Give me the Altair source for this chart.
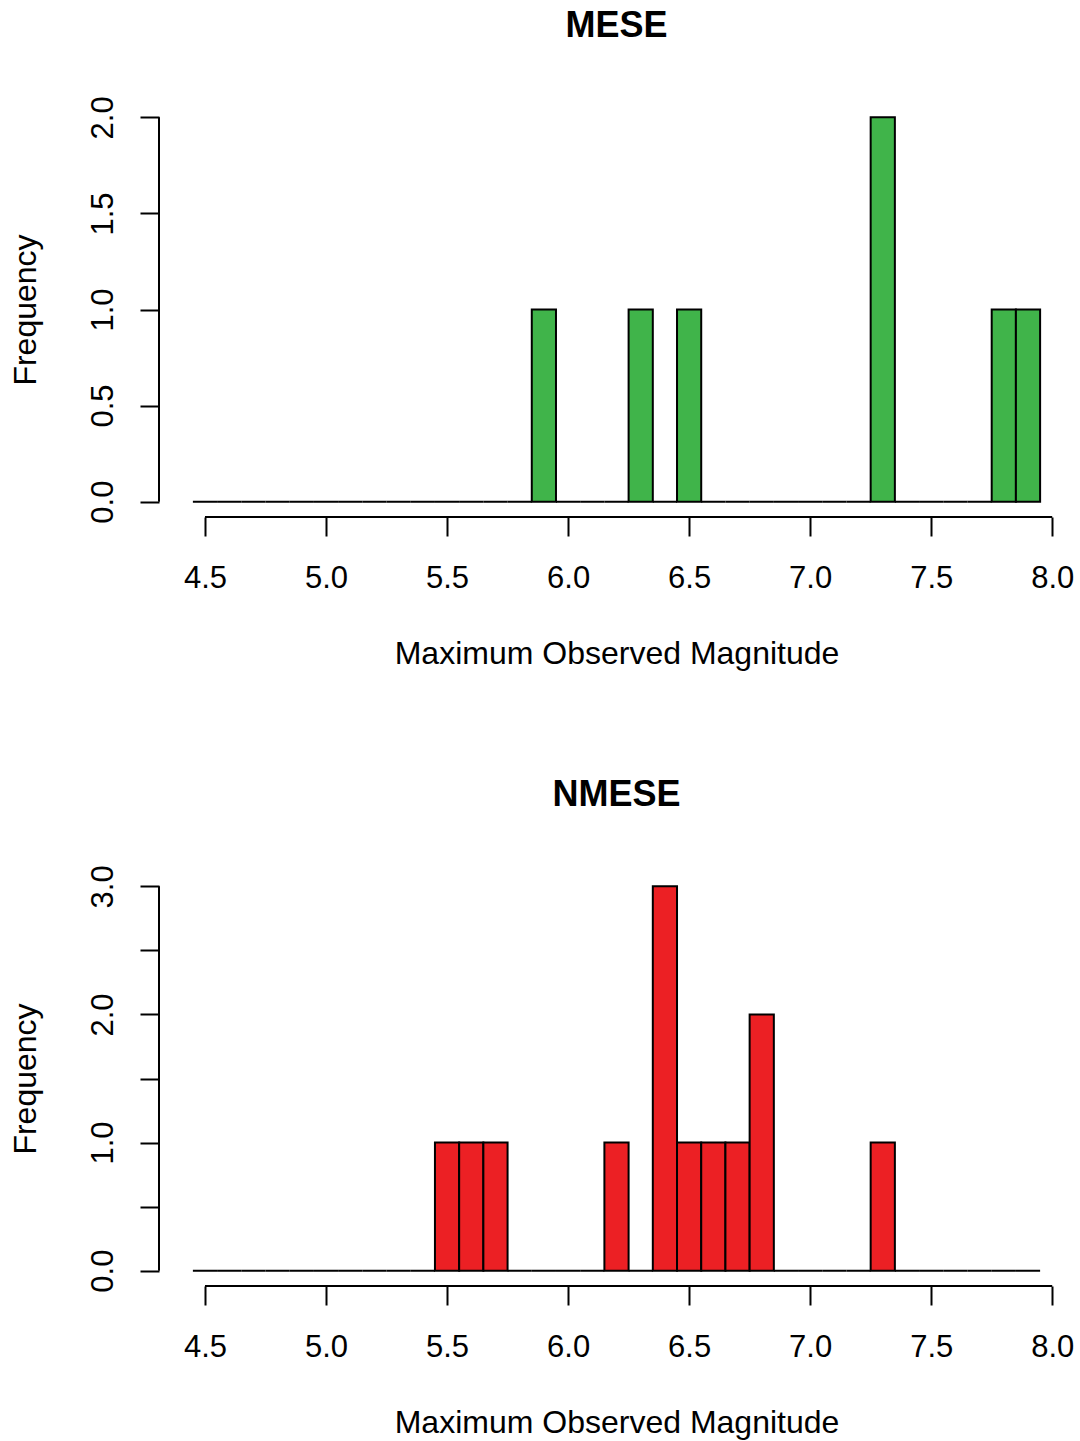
import altair as alt
import pandas as pd

# Histogram bin centres (bin width 0.1)
mids = [4.5, 4.6, 4.7, 4.8, 4.9, 5.0, 5.1, 5.2, 5.3, 5.4,
        5.5, 5.6, 5.7, 5.8, 5.9, 6.0, 6.1, 6.2, 6.3, 6.4,
        6.5, 6.6, 6.7, 6.8, 6.9, 7.0, 7.1, 7.2, 7.3, 7.4,
        7.5, 7.6, 7.7, 7.8, 7.9]
mese_counts = [0, 0, 0, 0, 0, 0, 0, 0, 0, 0,
               0, 0, 0, 0, 1, 0, 0, 0, 1, 0,
               1, 0, 0, 0, 0, 0, 0, 0, 2, 0,
               0, 0, 0, 1, 1]
nmese_counts = [0, 0, 0, 0, 0, 0, 0, 0, 0, 0,
                1, 1, 1, 0, 0, 0, 0, 1, 0, 3,
                1, 1, 1, 2, 0, 0, 0, 0, 1, 0,
                0, 0, 0, 0, 0]
x_ticks = [4.5, 5.0, 5.5, 6.0, 6.5, 7.0, 7.5, 8.0]
mese_y_ticks = [0, 0.5, 1.0, 1.5, 2.0]
nmese_y_ticks = [0, 0.5, 1.0, 1.5, 2.0, 2.5, 3.0]

W, H = 915, 415
FONT = "Liberation Sans"


def panel(title, counts, color, y_ticks, ypad, label_expr):
    df = pd.DataFrame({"mid": mids, "count": counts})
    xscale = alt.Scale(domain=[4.31, 8.09], nice=False, zero=False)
    yscale = alt.Scale(domain=[-ypad, y_ticks[-1] + ypad], nice=False, zero=False)
    xaxis = alt.Axis(
        values=x_ticks, format=".1f", title="Maximum Observed Magnitude",
        domain=False, grid=False, tickSize=19, tickWidth=2, tickColor="black",
        labelFont=FONT, labelFontSize=31, labelColor="black",
        labelBaseline="alphabetic", labelPadding=51, labelAngle=0,
        labelFlush=False, labelOverlap=False,
        titleFont=FONT, titleFontSize=32, titleFontWeight="normal",
        titleColor="black", titleBaseline="alphabetic", titleY=146.5,
        titleX=W / 2, titleAlign="center",
    )
    yaxis = alt.Axis(
        values=y_ticks, labelExpr=label_expr, title="Frequency",
        domain=False, grid=False, tickSize=19, tickWidth=2, tickColor="black",
        labelFont=FONT, labelFontSize=31, labelColor="black",
        labelAngle=270, labelAlign="center", labelBaseline="alphabetic",
        labelPadding=28, labelOverlap=False, labelFlush=False,
        titleFont=FONT, titleFontSize=32, titleFontWeight="normal",
        titleColor="black", titleAngle=270, titleBaseline="alphabetic",
        titleAlign="center", titleX=-123.5, titleY=H / 2,
    )
    bars = alt.Chart(df).transform_calculate(
        x0="datum.mid - 0.05", x1="datum.mid + 0.05"
    ).mark_rect(fill=color, stroke="black", strokeWidth=2).encode(
        x=alt.X("x0:Q", scale=xscale, axis=xaxis),
        x2="x1:Q",
        y=alt.Y("count:Q", scale=yscale, axis=yaxis),
        y2=alt.datum(0),
    )
    xline = alt.Chart(pd.DataFrame({"x0": [x_ticks[0]], "x1": [x_ticks[-1]]})).mark_rule(
        color="black", strokeWidth=2
    ).encode(
        x=alt.X("x0:Q", scale=xscale, axis=xaxis),
        x2="x1:Q",
        y=alt.value(H),
    )
    yline = alt.Chart(pd.DataFrame({"count": [y_ticks[0]], "c2": [y_ticks[-1]]})).mark_rule(
        color="black", strokeWidth=2
    ).encode(
        y=alt.Y("count:Q", scale=yscale, axis=yaxis),
        y2="c2:Q",
        x=alt.value(0),
    )
    return alt.layer(bars, xline, yline).properties(
        width=W, height=H,
        title=alt.TitleParams(
            title, font=FONT, fontSize=36, fontWeight="bold", anchor="middle",
            frame="group", baseline="alphabetic", offset=22.8, color="black",
        ),
    )


top = panel("MESE", mese_counts, "#40B44A", mese_y_ticks, 0.08,
            "format(datum.value, '.1f')")
bottom = panel("NMESE", nmese_counts, "#EC2024", nmese_y_ticks, 0.12,
               "datum.value % 1 == 0 ? format(datum.value, '.1f') : ''")

chart = alt.vconcat(top, bottom, spacing=354, bounds="flush").properties(
    padding={"left": 9, "top": 8, "right": 6, "bottom": 1},
    background="white",
).configure_view(strokeWidth=0, stroke="transparent")

chart.save("out.html", embed_options={"renderer": "svg", "actions": False})
